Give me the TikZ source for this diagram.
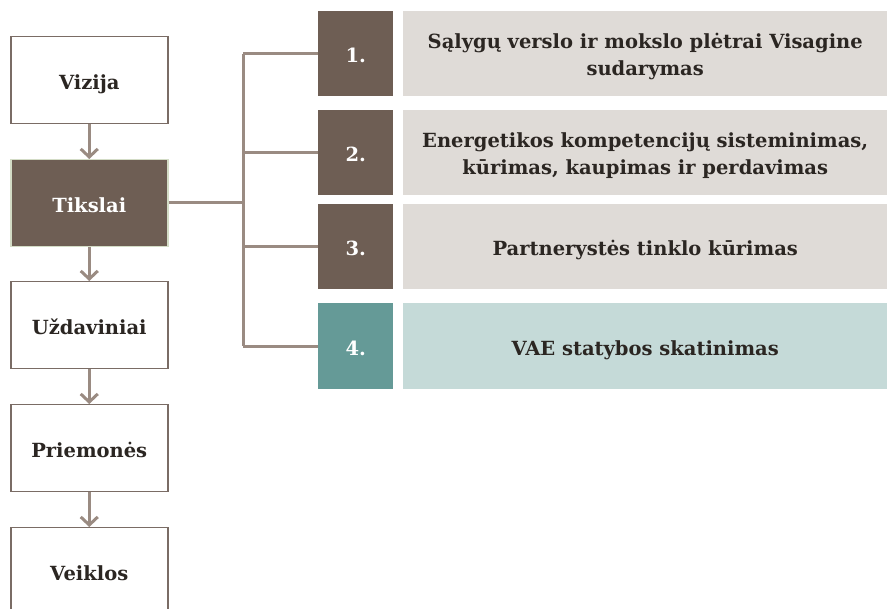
\documentclass[tikz,border=0pt]{standalone}
\usepackage{fontspec}
\setmainfont{DejaVu Serif}
\usetikzlibrary{arrows.meta}
\definecolor{dbrown}{HTML}{6E5E54}
\definecolor{lgray}{HTML}{DFDBD7}
\definecolor{teal4}{HTML}{659A97}
\definecolor{lteal}{HTML}{C5DAD8}
\definecolor{linec}{HTML}{9A8B82}
\definecolor{boxline}{HTML}{7A6C65}
\definecolor{txt}{HTML}{2B2622}
\definecolor{lgreen}{HTML}{D3DCC6}
\tikzset{
  lbox/.style={draw=boxline, line width=1.5pt, fill=white, minimum width=157pt, minimum height=87pt, inner sep=0pt, text height=21pt, text depth=3pt, font=\fontsize{19.5}{25}\selectfont\bfseries, text=txt, anchor=north west},
  tbox/.style={lbox, fill=dbrown, draw=lgreen, text=white},
  numbox/.style={fill=dbrown, minimum width=75pt, minimum height=85pt, inner sep=0pt, text height=21pt, text depth=3pt, font=\fontsize{19.5}{25}\selectfont\bfseries, text=white, anchor=north west},
  textbox/.style={fill=lgray, minimum width=484pt, minimum height=85pt, inner sep=0pt, align=center, text height=21pt, text depth=3pt, font=\fontsize{19.5}{27}\selectfont\bfseries, text=txt, anchor=north west},
  twoline/.style={text height=47pt, text depth=3pt},
  flowarrow/.style={draw=linec, line width=3pt, -{Straight Barb[length=8pt,width=17pt,line width=3pt]}},
  conn/.style={draw=linec, line width=3pt},
}
\begin{document}
\begin{tikzpicture}[x=1pt,y=-1pt]
\useasboundingbox (0,0) rectangle (887,609);
\begin{scope}
\clip (0,0) rectangle (887,609);
\node[lbox] (viz) at (10,36) {Vizija};
\node[tbox] (tik) at (10,159) {Tikslai};
\node[lbox] (uzd) at (10,281) {Uždaviniai};
\node[lbox] (pri) at (10,404) {Priemonės};
\node[lbox] (vei) at (10,527) {Veiklos};
\end{scope}
\draw[flowarrow] (viz.south) -- (tik.north);
\draw[flowarrow] (tik.south) -- (uzd.north);
\draw[flowarrow] (uzd.south) -- (pri.north);
\draw[flowarrow] (pri.south) -- (vei.north);

\node[numbox] (n1) at (318,11) {1.};
\node[numbox] (n2) at (318,110) {2.};
\node[numbox] (n3) at (318,204) {3.};
\node[numbox, fill=teal4, minimum height=86pt] (n4) at (318,303) {4.};

\node[textbox, twoline] (t1) at (403,11) {Sąlygų verslo ir mokslo plėtrai Visagine\\sudarymas};
\node[textbox, twoline] (t2) at (403,110) {Energetikos kompetencijų sisteminimas,\\kūrimas, kaupimas ir perdavimas};
\node[textbox] (t3) at (403,204) {Partnerystės tinklo kūrimas};
\node[textbox, fill=lteal, minimum height=86pt] (t4) at (403,303) {VAE statybos skatinimas};

\coordinate (j) at (243,203);
\draw[conn] (tik.east |- j) -- (j);
\draw[conn] (j |- n1.west) -- (j |- n4.west);
\draw[conn] (j |- n1.west) -- (n1.west);
\draw[conn] (j |- n2.west) -- (n2.west);
\draw[conn] (j |- n3.west) -- (n3.west);
\draw[conn] (j |- n4.west) -- (n4.west);
\end{tikzpicture}
\end{document}
